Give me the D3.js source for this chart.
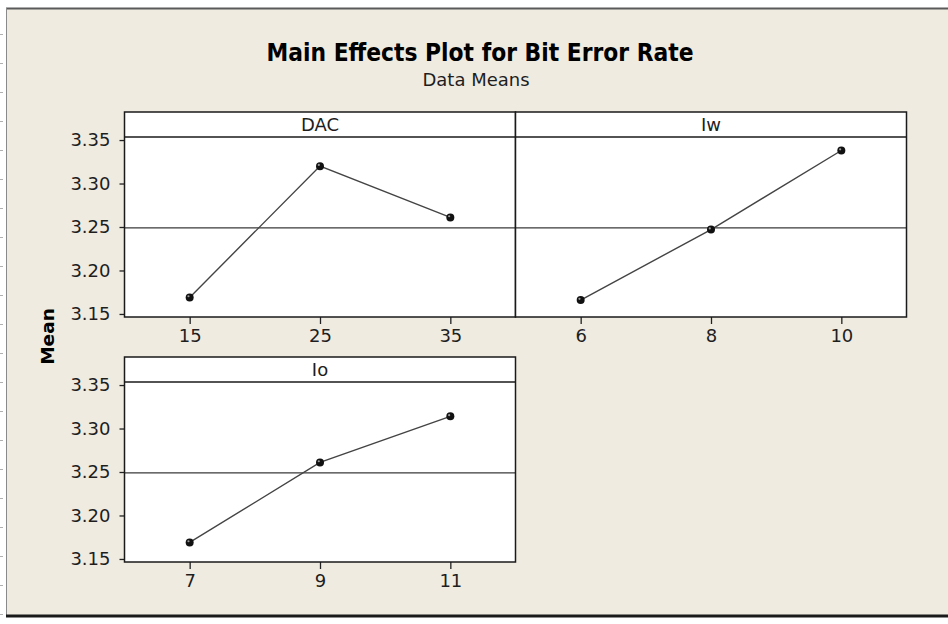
<!DOCTYPE html>
<html>
<head>
<meta charset="utf-8">
<script src="https://cdn.jsdelivr.net/npm/d3@7"></script>
<style>
  html, body { margin: 0; padding: 0; background: #ffffff; }
  svg { display: block; }
  text { font-family: "DejaVu Sans", Verdana, sans-serif; fill: #1e1e1e; }
</style>
</head>
<body>
<svg id="chart" width="948" height="624"></svg>
<script>
// Factor names and their levels / mean responses
const factors = ["DAC", "Iw", "Io"];
const dacLevels = [15, 25, 35];
const dacMeans = [3.169, 3.320, 3.261];
const iwLevels = [6, 8, 10];
const iwMeans = [3.166, 3.247, 3.338];
const ioLevels = [7, 9, 11];
const ioMeans = [3.169, 3.261, 3.314];
const yTicks = [3.15, 3.20, 3.25, 3.30, 3.35];
const yDomain = [3.1465, 3.3535];
const grandMean = 3.249;

const panels = [
  { name: factors[0], levels: dacLevels, means: dacMeans, col: 0, row: 0 },
  { name: factors[1], levels: iwLevels, means: iwMeans, col: 1, row: 0 },
  { name: factors[2], levels: ioLevels, means: ioMeans, col: 0, row: 1 }
];

const W = 948, H = 624;
const svg = d3.select("#chart");

// Window-like frame around the graph
svg.append("rect").attr("x", 0).attr("y", 0).attr("width", W).attr("height", H).attr("fill", "#ffffff");
svg.append("rect").attr("x", 6).attr("y", 8).attr("width", W - 6).attr("height", 607).attr("fill", "#efebe1");
svg.append("line").attr("x1", 6).attr("x2", W).attr("y1", 8.5).attr("y2", 8.5)
  .attr("stroke", "#5a5a5a").attr("stroke-width", 2);
svg.append("line").attr("x1", 6.5).attr("x2", 6.5).attr("y1", 8).attr("y2", 616)
  .attr("stroke", "#8a8a8a").attr("stroke-width", 1);
svg.append("line").attr("x1", 6).attr("x2", W).attr("y1", 616).attr("y2", 616)
  .attr("stroke", "#1a1a1a").attr("stroke-width", 3);
// small ruler marks at the far left edge
svg.append("g").selectAll("line").data(d3.range(34, 616, 29)).join("line")
  .attr("x1", 0).attr("x2", 3).attr("y1", d => d + 0.5).attr("y2", d => d + 0.5)
  .attr("stroke", "#b0b0b0").attr("stroke-width", 1);

// Titles
svg.append("text").attr("x", 480).attr("y", 61).attr("text-anchor", "middle")
  .attr("font-size", 24).attr("font-weight", "bold")
  .attr("textLength", 427).attr("lengthAdjust", "spacingAndGlyphs")
  .style("fill", "#000")
  .text("Main Effects Plot for Bit Error Rate");
svg.append("text").attr("x", 476).attr("y", 86).attr("text-anchor", "middle")
  .attr("font-size", 18)
  .text("Data Means");

// Y axis title
svg.append("text")
  .attr("transform", "translate(54,336.5) rotate(-90)")
  .attr("text-anchor", "middle")
  .attr("font-size", 18.5).attr("font-weight", "bold")
  .style("fill", "#000")
  .text("Mean");

// Panel geometry
const panelLeft = 124.5, panelW = 391;
const rowTops = [112, 357];
const headerH = 25, plotH = 180;

panels.forEach(p => {
  const x0 = panelLeft + p.col * panelW;
  const top = rowTops[p.row];
  const plotTop = top + headerH;
  const plotBottom = plotTop + plotH;

  const x = d3.scalePoint().domain(p.levels).range([x0, x0 + panelW]).padding(0.5);
  const y = d3.scaleLinear().domain(yDomain).range([plotBottom, plotTop]);

  const g = svg.append("g");

  // header strip and plot area
  g.append("rect").attr("x", x0).attr("y", top).attr("width", panelW).attr("height", headerH + plotH)
    .attr("fill", "#ffffff");
  g.append("text").attr("x", x0 + panelW / 2).attr("y", top + headerH / 2 + 6.5)
    .attr("text-anchor", "middle").attr("font-size", 18).text(p.name);

  // reference line at the overall mean
  g.append("line").attr("x1", x0).attr("x2", x0 + panelW)
    .attr("y1", y(grandMean)).attr("y2", y(grandMean))
    .attr("stroke", "#3a3a3a").attr("stroke-width", 1.2);

  // x axis
  const xa = g.append("g").attr("transform", `translate(0,${plotBottom})`)
    .call(d3.axisBottom(x).tickSize(7).tickPadding(5));
  xa.select(".domain").remove();
  xa.selectAll("line").attr("stroke", "#222").attr("stroke-width", 1.3);
  xa.selectAll("text").attr("font-size", 18).attr("font-family", "DejaVu Sans").style("fill", "#1e1e1e");

  // y axis only on the left column
  if (p.col === 0) {
    const ya = g.append("g").attr("transform", `translate(${x0},0)`)
      .call(d3.axisLeft(y).tickValues(yTicks).tickFormat(d3.format(".2f")).tickSize(5).tickPadding(9));
    ya.select(".domain").remove();
    ya.selectAll("line").attr("stroke", "#222").attr("stroke-width", 1.3);
    ya.selectAll("text").attr("font-size", 18).attr("font-family", "DejaVu Sans").style("fill", "#1e1e1e");
  }

  // connecting line of the level means
  const pts = p.levels.map((l, i) => [x(l), y(p.means[i])]);
  g.append("path").attr("d", d3.line()(pts))
    .attr("fill", "none").attr("stroke", "#444").attr("stroke-width", 1.4);

  // markers
  g.selectAll("circle.pt").data(pts).join("circle").attr("class", "pt")
    .attr("cx", d => d[0]).attr("cy", d => d[1]).attr("r", 4)
    .attr("fill", "#111");
  g.selectAll("circle.hl").data(pts).join("circle").attr("class", "hl")
    .attr("cx", d => d[0] - 1.2).attr("cy", d => d[1] - 1.2).attr("r", 1.1)
    .attr("fill", "#9a9a9a");

  // header separator and panel border
  g.append("line").attr("x1", x0).attr("x2", x0 + panelW).attr("y1", plotTop).attr("y2", plotTop)
    .attr("stroke", "#1a1a1a").attr("stroke-width", 1.5);
  g.append("rect").attr("x", x0).attr("y", top).attr("width", panelW).attr("height", headerH + plotH)
    .attr("fill", "none").attr("stroke", "#1a1a1a").attr("stroke-width", 1.5);
});
</script>
</body>
</html>
